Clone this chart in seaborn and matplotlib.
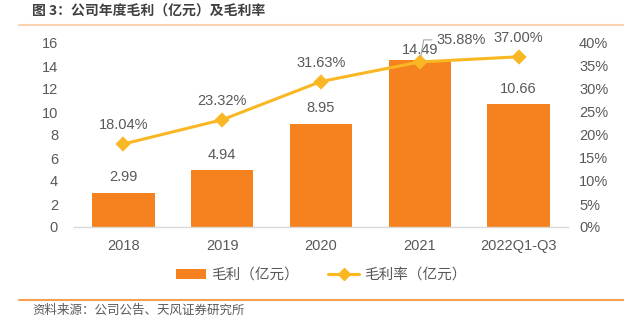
import matplotlib
matplotlib.use("Agg")
import matplotlib.pyplot as plt
from matplotlib.patches import Patch
from matplotlib.lines import Line2D
import seaborn as sns
import pandas as pd

sns.set_theme(style="white")
plt.rcParams["font.family"] = ["Liberation Sans", "Noto Sans CJK SC", "DejaVu Sans"]

# Data
years = ["2018", "2019", "2020", "2021", "2022Q1-Q3"]
gross_profit = [2.99, 4.94, 8.95, 14.49, 10.66]          # 亿元
gross_margin = [18.04, 23.32, 31.63, 35.88, 37.00]      # %

title = "图 3：公司年度毛利（亿元）及毛利率"
source = "资料来源：公司公告、天风证券研究所"
bar_label = "毛利（亿元）"
line_label = "毛利率（亿元）"

BAR_C = "#F5821F"
LINE_C = "#F9B823"
TXT_C = "#595959"
CJK = ["Noto Sans CJK SC", "DejaVu Sans"]

df = pd.DataFrame({"year": years, "profit": gross_profit, "margin": gross_margin})

fig = plt.figure(figsize=(6.24, 3.26), dpi=100)
ax = fig.add_axes([74 / 624, 1 - 227 / 326, 494 / 624, 184 / 326])

sns.barplot(data=df, x="year", y="profit", ax=ax, color=BAR_C, width=0.63,
            saturation=1, edgecolor="none")
ax.set_ylim(0, 16)
ax.set_yticks(range(0, 17, 2))
ax.set_xlabel("")
ax.set_ylabel("")
for s in ["left", "right", "top"]:
    ax.spines[s].set_visible(False)
ax.spines["bottom"].set_color("#D9D9D9")
ax.spines["bottom"].set_linewidth(1)
ax.tick_params(axis="both", length=0, labelsize=10.5, colors=TXT_C)
ax.tick_params(axis="y", pad=11.5)
ax.tick_params(axis="x", pad=8.5)

for i, v in enumerate(gross_profit):
    off = 0.3 if i == 3 else 0.75
    ax.text(i, v + off, f"{v:.2f}", ha="center", va="bottom", fontsize=10.5, color=TXT_C)

ax2 = ax.twinx()
sns.pointplot(data=df, x="year", y="margin", ax=ax2, color=LINE_C, markers="D",
              markersize=6, linewidth=2.2)
ax2.set_ylim(0, 40)
ax2.set_yticks(range(0, 41, 5))
ax2.set_yticklabels([f"{t}%" for t in range(0, 41, 5)])
ax2.set_ylabel("")
for s in ["left", "right", "top", "bottom"]:
    ax2.spines[s].set_visible(False)
ax2.tick_params(axis="y", length=0, labelsize=10.5, colors=TXT_C, pad=8)

for i, v in enumerate(gross_margin):
    if i == 3:
        ax2.annotate(f"{v:.2f}%", xy=(i, v), xytext=(i + 0.17, v + 4.8),
                     ha="left", va="center", fontsize=10.5, color=TXT_C,
                     arrowprops=dict(arrowstyle="-", color="#A6A6A6", lw=0.8,
                                     connectionstyle="angle,angleA=0,angleB=80,rad=0",
                                     relpos=(0, 0.5), shrinkA=1, shrinkB=4))
    else:
        ax2.text(i, v + 2.6, f"{v:.2f}%", ha="center", va="bottom", fontsize=10.5, color=TXT_C)

handles = [Patch(facecolor=BAR_C, edgecolor="none"),
           Line2D([0], [0], color=LINE_C, lw=2.2, marker="D", markersize=6)]
leg = fig.legend(handles, [bar_label, line_label], loc="center", ncol=2,
                 bbox_to_anchor=(321 / 624, 1 - 275 / 326), frameon=False,
                 handlelength=2.1, handleheight=0.7, columnspacing=2.0, handletextpad=0.35,
                 prop={"family": CJK, "size": 10.5})
for t in leg.get_texts():
    t.set_color(TXT_C)

# Header and footer rules
fig.add_artist(Line2D([19 / 624, 1], [1 - 25 / 326] * 2, color="#FBD3B0", lw=1.5,
                      transform=fig.transFigure))
fig.add_artist(Line2D([19 / 624, 1], [1 - 300 / 326] * 2, color="#F7A04F", lw=1.5,
                      transform=fig.transFigure))
fig.text(32 / 624, 1 - 12 / 326, title, ha="left", va="center", fontsize=10,
         fontweight="bold", color="#404040", family=CJK)
fig.text(32 / 624, 1 - 310 / 326, source, ha="left", va="center", fontsize=9,
         color=TXT_C, family=CJK)

fig.savefig("out.png", dpi=100)
